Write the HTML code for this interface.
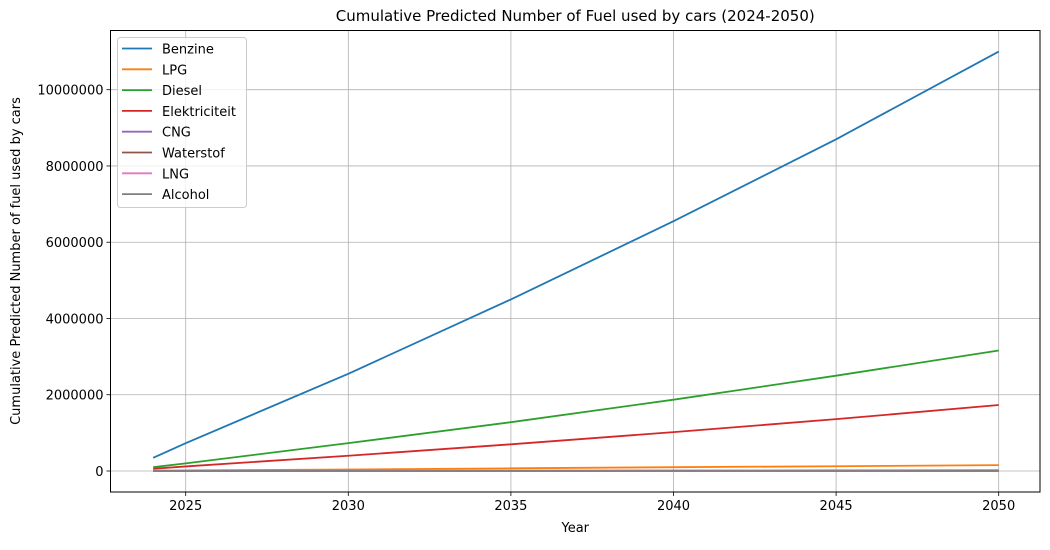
<!DOCTYPE html>
<html><head><meta charset="utf-8"><style>
body{margin:0;background:#fff;font-family:"Liberation Sans","DejaVu Sans",sans-serif}
text{font-family:"DejaVu Sans","Liberation Sans",sans-serif}
</style></head><body>
<svg id="chart" width="1050" height="545"></svg>
<script>
const years=[2024,2025,2030,2035,2040,2045,2050];
const benzine=[347000,730000,2550000,4500000,6550000,8700000,11000000];
const lpg=[10000,15000,40000,70000,100000,125000,155000];
const diesel=[100000,200000,730000,1280000,1870000,2500000,3160000];
const elektriciteit=[60000,120000,400000,700000,1020000,1360000,1730000];
const cng=[2000,3000,6000,9000,12000,15000,18000];
const waterstof=[500,700,1500,2500,3500,4500,5500];
const lng=[300,400,900,1500,2000,2600,3200];
const alcohol=[100,150,300,500,700,900,1100];
const seriesNames=["Benzine","LPG","Diesel","Elektriciteit","CNG","Waterstof","LNG","Alcohol"];
const seriesData=[benzine,lpg,diesel,elektriciteit,cng,waterstof,lng,alcohol];
const colors=["#1f77b4","#ff7f0e","#2ca02c","#d62728","#9467bd","#8c564b","#e377c2","#7f7f7f"];
const xTicks=[2025,2030,2035,2040,2045,2050];
const yTicks=[0,2000000,4000000,6000000,8000000,10000000];

const L=110.5,R=1040,T=30.5,B=492;
const xs=v=>185.7+(v-2025)*32.52;
const ys=v=>471-v*76.26/2000000;
const svg=document.getElementById('chart');
const NS="http://www.w3.org/2000/svg";
function mk(tag,attrs,parent){const e=document.createElementNS(NS,tag);for(const k in attrs)e.setAttribute(k,attrs[k]);(parent||svg).appendChild(e);return e;}

const grid=mk('g',{});


xTicks.forEach(t=>{
  const x=xs(t);
  mk('line',{x1:x,x2:x,y1:T,y2:B,stroke:'#b0b0b0','stroke-width':0.8},grid);
  mk('line',{x1:x,x2:x,y1:B,y2:B+4,stroke:'#000','stroke-width':0.8});
  const tx=mk('text',{x:x,y:B+18,'text-anchor':'middle','font-size':13});
  tx.textContent=t;
  
  
});
yTicks.forEach(t=>{
  const y=ys(t);
  mk('line',{x1:L,x2:R,y1:y,y2:y,stroke:'#b0b0b0','stroke-width':0.8},grid);
  mk('line',{x1:L-4,x2:L,y1:y,y2:y,stroke:'#000','stroke-width':0.8});
  const tx=mk('text',{x:L-7,y:y+5,'text-anchor':'end','font-size':13});
  tx.textContent=t;
  
  
});
const clip=mk('g',{});


seriesData.forEach((d,i)=>{
  const p=mk('polyline',{points:d.map((v,j)=>xs(years[j])+','+ys(v)).join(' '),fill:'none',stroke:colors[i],'stroke-width':1.8},clip);
  
  
});
const frame=mk('rect',{x:L,y:T,width:R-L,height:B-T,fill:'none',stroke:'#000','stroke-width':1});



const title=mk('text',{x:(L+R)/2,y:21,'text-anchor':'middle','font-size':15});
title.textContent='Cumulative Predicted Number of Fuel used by cars (2024-2050)';


const xl=mk('text',{x:(L+R)/2,y:532,'text-anchor':'middle','font-size':13});
xl.textContent='Year';


const yl=mk('text',{x:0,y:0,'text-anchor':'middle','font-size':13,transform:'translate(20,261) rotate(-90)'});
yl.textContent='Cumulative Predicted Number of fuel used by cars';



const lg=mk('g',{});


mk('rect',{x:117.5,y:37.5,width:129,height:170,rx:3,fill:'#fff','fill-opacity':0.8,stroke:'#ccc'},lg);
seriesNames.forEach((n,i)=>{
  const y=48.5+i*20.8;
  const e=mk('g',{},lg);
  
  
  mk('line',{x1:122,x2:152,y1:y,y2:y,stroke:colors[i],'stroke-width':1.8},e);
  const t=mk('text',{x:162,y:y+5,'font-size':13},e);
  t.textContent=n;
});
</script>
</body></html>
